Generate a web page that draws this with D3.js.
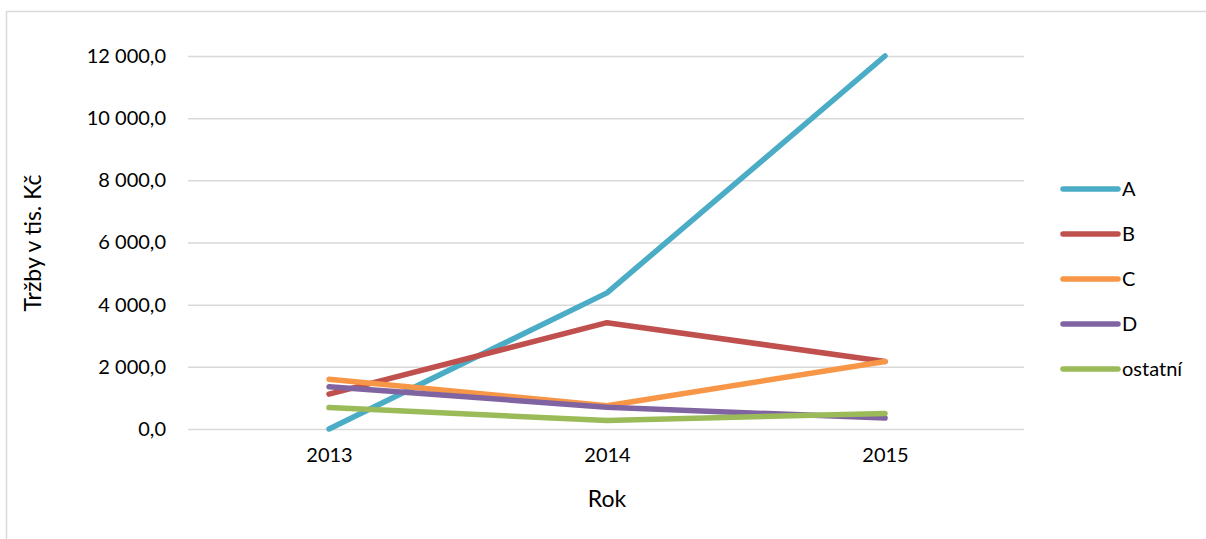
<!DOCTYPE html>
<html>
<head>
<meta charset="utf-8">
<script src="https://cdn.jsdelivr.net/npm/d3@7"></script>
<style>
  html, body { margin: 0; padding: 0; background: #fff; }
  svg { display: block; }
  text { font-family: Lato, "Open Sans", sans-serif; fill: #000; }
</style>
</head>
<body>
<svg id="chart" width="1206" height="539"></svg>
<script>
// Years on the category axis
const years = ["2013", "2014", "2015"];
// Sales per segment (thousands CZK)
const seriesNames = ["A", "B", "C", "D", "ostatní"];
const valuesA = [0, 4380, 12000];
const valuesB = [1120, 3420, 2170];
const valuesC = [1600, 750, 2170];
const valuesD = [1360, 700, 350];
const valuesOther = [690, 270, 500];
const yTicks = [0, 2000, 4000, 6000, 8000, 10000, 12000];
const colors = ["#4bacc6", "#c0504d", "#f79646", "#8064a2", "#9bbb59"];

const series = seriesNames.map((name, i) => ({
  name,
  color: colors[i],
  values: [valuesA, valuesB, valuesC, valuesD, valuesOther][i]
}));

const svg = d3.select("#chart");

// Outer chart border (only top and left edges fall inside the frame)
svg.append("rect")
  .attr("x", 6.5).attr("y", 11.5)
  .attr("width", 1210).attr("height", 540)
  .attr("fill", "none").attr("stroke", "#d9d9d9").attr("stroke-width", 1.5);

const x = d3.scalePoint().domain(years).range([190, 1024]).padding(0.5);
const y = d3.scaleLinear().domain([0, 12000]).range([429, 56]);

const fmt = v => {
  const s = d3.format(",.1f")(v);
  return s.replace(/,/g, " ").replace(".", ",");
};

// Horizontal gridlines + value labels
const yAxis = d3.axisLeft(y).tickValues(yTicks).tickSize(-(1024 - 188)).tickPadding(22).tickFormat(fmt);
const gy = svg.append("g").attr("transform", "translate(188,0)").call(yAxis);
gy.select(".domain").remove();
gy.selectAll(".tick line").attr("stroke", "#d9d9d9").attr("stroke-width", 1.5);
gy.selectAll(".tick text").style("font-size", "20px").attr("fill", "#000");

// Category labels
const xAxis = d3.axisBottom(x).tickSize(0).tickPadding(0);
const gx = svg.append("g").attr("transform", "translate(0,448)").call(xAxis);
gx.select(".domain").remove();
gx.selectAll(".tick text").style("font-size", "20px").attr("fill", "#000").attr("dy", "0.71em");

// Axis titles
svg.append("text")
  .attr("x", x("2014")).attr("y", 507)
  .attr("text-anchor", "middle").style("font-size", "23px").text("Rok");
svg.append("text")
  .attr("transform", "translate(41,243) rotate(-90)")
  .attr("text-anchor", "middle").style("font-size", "23px").text("Tržby v tis. Kč");

// Lines
const line = d3.line().x((d, i) => x(years[i])).y(d => y(d));
svg.append("g").selectAll("path").data(series).join("path")
  .attr("d", d => line(d.values))
  .attr("fill", "none")
  .attr("stroke", d => d.color)
  .attr("stroke-width", 5.5)
  .attr("stroke-linecap", "round")
  .attr("stroke-linejoin", "round");

// Legend
const legend = svg.append("g").selectAll("g").data(series).join("g")
  .attr("transform", (d, i) => `translate(1063,${189 + i * 45})`);
legend.append("line")
  .attr("x1", 0).attr("x2", 55)
  .attr("stroke", d => d.color).attr("stroke-width", 5.5).attr("stroke-linecap", "round");
legend.append("text")
  .attr("x", 59).attr("dy", "0.35em")
  .style("font-size", "20px").text(d => d.name);
</script>
</body>
</html>
